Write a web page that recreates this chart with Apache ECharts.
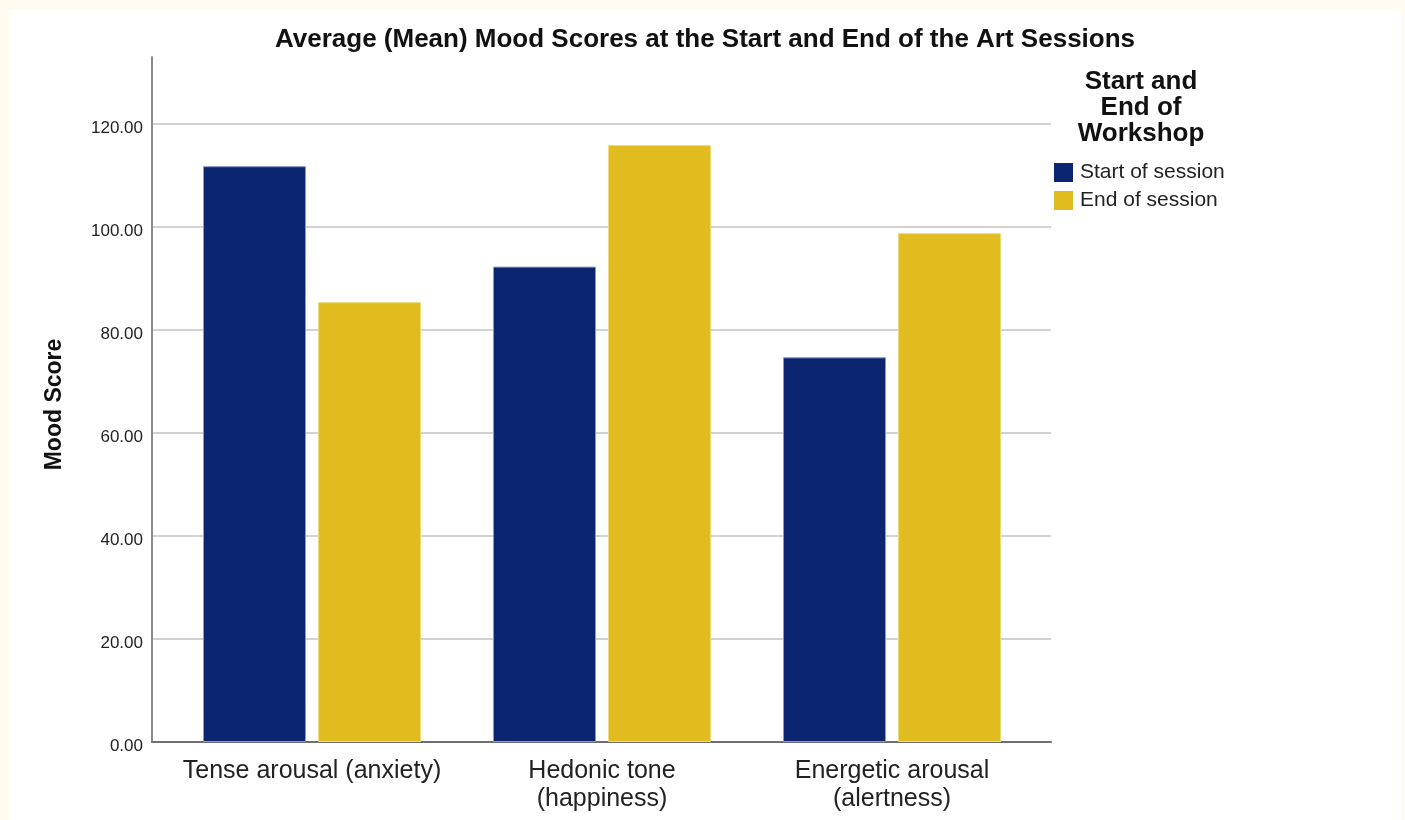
<!DOCTYPE html>
<html>
<head>
<meta charset="utf-8">
<script src="https://cdn.jsdelivr.net/npm/echarts@6/dist/echarts.min.js"></script>
<style>
  html, body { margin:0; padding:0; background:#fffcef; width:1405px; height:820px; overflow:hidden; }
  #panel { position:absolute; left:9px; top:9px; width:1392px; height:815px; background:#ffffff; }
  #chart { position:absolute; left:0; top:0; width:1405px; height:820px; }
</style>
</head>
<body>
<div id="panel"></div>
<div id="chart"></div>
<script>
const categories = ['Tense arousal (anxiety)', 'Hedonic tone\n(happiness)', 'Energetic arousal\n(alertness)'];
const seriesNames = ['Start of session', 'End of session'];
const startValues = [111.8, 92.3, 74.7];
const endValues = [85.4, 115.9, 98.8];
const yTicks = { min: 0, max: 133, interval: 20 };

const FONT = '"Liberation Sans", Arial, sans-serif';
const chart = echarts.init(document.getElementById('chart'), null, { renderer: 'canvas' });

const option = {
  backgroundColor: 'transparent',
  animation: false,
  textStyle: { fontFamily: FONT },
  title: [
    {
      text: 'Average (Mean) Mood Scores at the Start and End of the Art Sessions',
      left: 705, top: 27, textAlign: 'center', padding: 0,
      textStyle: { fontFamily: FONT, fontSize: 26, fontWeight: 'bold', color: '#111' }
    },
    {
      text: 'Start and\nEnd of\nWorkshop',
      left: 1141, top: 69, textAlign: 'center', padding: 0,
      textStyle: { fontFamily: FONT, fontSize: 26, fontWeight: 'bold', color: '#111', lineHeight: 26 }
    }
  ],
  legend: {
    orient: 'vertical',
    left: 1054, top: 162, padding: 0,
    icon: 'rect',
    itemWidth: 19, itemHeight: 19, itemGap: 7,
    itemStyle: { borderWidth: 0 },
    data: seriesNames,
    textStyle: { fontFamily: FONT, fontSize: 21, color: '#222', padding: [5, 0, 0, 2] }
  },
  grid: [
    { left: 152, right: 354, top: 57, bottom: 78 },
    { left: 167, right: 368, top: 57, bottom: 78 }
  ],
  xAxis: [
    {
      gridIndex: 0, type: 'category', data: [''],
      axisLine: { show: true, lineStyle: { color: '#6e6e6e', width: 2 } },
      axisTick: { show: false }, axisLabel: { show: false }, splitLine: { show: false }
    },
    {
      gridIndex: 1, type: 'category', data: categories,
      axisLine: { show: false }, axisTick: { show: false },
      axisLabel: { fontFamily: FONT, fontSize: 25, color: '#222', lineHeight: 28, margin: 15, interval: 0 }
    }
  ],
  yAxis: [
    {
      gridIndex: 0, type: 'value', min: yTicks.min, max: yTicks.max, interval: yTicks.interval,
      name: 'Mood Score', nameLocation: 'middle', nameRotate: 90, nameGap: 86,
      nameTextStyle: { fontFamily: FONT, fontSize: 23, fontWeight: 'bold', color: '#111', padding: [0, 10, 0, 0] },
      axisLine: { show: true, lineStyle: { color: '#8a8a8a', width: 2 } },
      axisTick: { show: false },
      axisLabel: {
        fontFamily: FONT, fontSize: 17, color: '#222', margin: 9, showMaxLabel: false,
        verticalAlign: 'top', lineHeight: 8,
        formatter: v => v.toFixed(2)
      },
      splitLine: { show: true, showMinLine: false, showMaxLine: false, lineStyle: { color: '#d2d2d2', width: 2 } }
    },
    {
      gridIndex: 1, type: 'value', min: yTicks.min, max: yTicks.max, interval: yTicks.interval,
      show: false, splitLine: { show: false }
    }
  ],
  series: [
    {
      name: seriesNames[0], type: 'bar', xAxisIndex: 1, yAxisIndex: 1,
      data: startValues, barWidth: 103, barGap: '11.6%',
      itemStyle: { color: '#0b2570', borderColor: '#8d9bc4', borderWidth: 1 }
    },
    {
      name: seriesNames[1], type: 'bar', xAxisIndex: 1, yAxisIndex: 1,
      data: endValues, barWidth: 103, barGap: '11.6%',
      itemStyle: { color: '#e0bc1f', borderColor: '#f0d97a', borderWidth: 1 }
    }
  ]
};
chart.setOption(option);
</script>
</body>
</html>
